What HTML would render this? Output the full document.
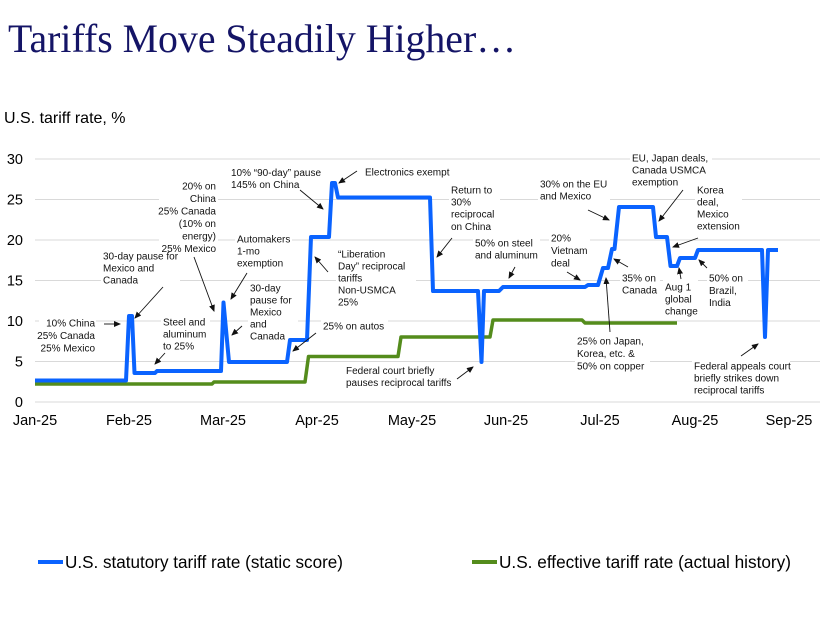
<!DOCTYPE html>
<html><head><meta charset="utf-8"><style>
html,body{margin:0;padding:0;background:#fff;}
svg{display:block;}
.a{font-family:"Liberation Sans",Arial,sans-serif;font-size:10px;fill:#111;}
.t{font-family:"Liberation Sans",Arial,sans-serif;font-size:14.5px;fill:#000;}
</style></head><body>
<svg width="826" height="620" viewBox="0 0 826 620" xmlns="http://www.w3.org/2000/svg">
<defs>
<marker id="ah" markerUnits="userSpaceOnUse" markerWidth="7" markerHeight="6" refX="6" refY="3" orient="auto">
<path d="M0,0 L7,3 L0,6 z" fill="#111"/>
</marker>
</defs>
<rect width="826" height="620" fill="#fff"/>
<text x="8" y="52" font-family="Liberation Serif,Times New Roman,serif" font-size="40" fill="#141466" textLength="508" lengthAdjust="spacingAndGlyphs">Tariffs Move Steadily Higher…</text>
<text x="4" y="123" font-family="Liberation Sans,Arial,sans-serif" font-size="16" fill="#000">U.S. tariff rate, %</text>

<!-- gridlines -->
<g stroke="#d9d9d9" stroke-width="1">
<line x1="35" x2="820" y1="159" y2="159"/>
<line x1="35" x2="820" y1="199.5" y2="199.5"/>
<line x1="35" x2="820" y1="240" y2="240"/>
<line x1="35" x2="820" y1="280.5" y2="280.5"/>
<line x1="35" x2="820" y1="321" y2="321"/>
<line x1="35" x2="820" y1="361.5" y2="361.5"/>
<line x1="35" x2="820" y1="402" y2="402"/>
</g>

<!-- white boxes behind annotations -->
<g fill="#fff">
<rect x="39" y="316" width="57" height="38"/>
<rect x="101" y="249" width="79" height="36"/>
<rect x="161" y="315" width="49" height="36"/>
<rect x="159" y="179" width="59" height="74"/>
<rect x="235" y="232" width="57" height="36"/>
<rect x="248" y="281" width="50" height="60"/>
<rect x="321" y="319" width="67" height="12"/>
<rect x="229" y="166" width="93" height="23"/>
<rect x="363" y="165" width="87" height="12"/>
<rect x="336" y="247" width="80" height="60"/>
<rect x="344" y="363" width="114" height="24"/>
<rect x="449" y="183" width="51" height="49"/>
<rect x="473" y="236" width="67" height="24"/>
<rect x="549" y="231" width="41" height="37"/>
<rect x="538" y="177" width="72" height="24"/>
<rect x="620" y="271" width="40" height="24"/>
<rect x="575" y="334" width="75" height="37"/>
<rect x="630" y="151" width="82" height="36"/>
<rect x="695" y="183" width="47" height="48"/>
<rect x="663" y="280" width="35" height="36"/>
<rect x="707" y="271" width="41" height="36"/>
<rect x="692" y="359" width="98" height="36"/>
</g>

<!-- axis labels -->
<g class="t" text-anchor="end">
<text x="23" y="164">30</text>
<text x="23" y="204.5">25</text>
<text x="23" y="245">20</text>
<text x="23" y="285.5">15</text>
<text x="23" y="326">10</text>
<text x="23" y="366.5">5</text>
<text x="23" y="407">0</text>
</g>
<g class="t" text-anchor="middle">
<text x="35" y="425">Jan-25</text>
<text x="129" y="425">Feb-25</text>
<text x="223" y="425">Mar-25</text>
<text x="317" y="425">Apr-25</text>
<text x="412" y="425">May-25</text>
<text x="506" y="425">Jun-25</text>
<text x="600" y="425">Jul-25</text>
<text x="695" y="425">Aug-25</text>
<text x="789" y="425">Sep-25</text>
</g>

<!-- series -->
<polyline fill="none" stroke="#548c1c" stroke-width="3.5" stroke-linejoin="round" points="35,384 212,384 214,382 305,382 308.5,356.5 398,356.5 401,337 490,337 493,320 582,320 585,323 677,323"/>
<polyline fill="none" stroke="#0a63ff" stroke-width="4" stroke-linejoin="round" points="35,380.5 126,380.5 129,316 132,316 134.5,373 155,373 157,371 221,371 223.5,302.5 229,362 287,362 290,340 307,340 311,237 329,237 332,183 335,183 338,197.5 430,197.5 433,291 478,291 481.5,362 484,291 499,291 503,287 585,287 588,285 598,285 603,268 608,268 612,249 614.5,249 619,207 653,207 656,237 667,237 670.5,266 677,266 680,258 695,258 698,250 762,250 765,337 768,250 778,250"/>

<!-- annotation text -->
<g class="a">
<g text-anchor="end">
<text x="95" y="326.5">10% China</text>
<text x="95" y="339">25% Canada</text>
<text x="95" y="351.5">25% Mexico</text>
<text x="216" y="189.5">20% on</text>
<text x="216" y="202">China</text>
<text x="216" y="214.5">25% Canada</text>
<text x="216" y="227">(10% on</text>
<text x="216" y="239.5">energy)</text>
<text x="216" y="252">25% Mexico</text>
</g>
<text x="103" y="259.5">30-day pause for</text>
<text x="103" y="271.5">Mexico and</text>
<text x="103" y="283.5">Canada</text>
<text x="163" y="325.5">Steel and</text>
<text x="163" y="337.5">aluminum</text>
<text x="163" y="349.5">to 25%</text>
<text x="237" y="242.5">Automakers</text>
<text x="237" y="254.5">1-mo</text>
<text x="237" y="266.5">exemption</text>
<text x="250" y="291.5">30-day</text>
<text x="250" y="303.5">pause for</text>
<text x="250" y="315.5">Mexico</text>
<text x="250" y="327.5">and</text>
<text x="250" y="339.5">Canada</text>
<text x="323" y="329.5">25% on autos</text>
<text x="231" y="176">10% “90-day” pause</text>
<text x="231" y="188">145% on China</text>
<text x="365" y="175.5">Electronics exempt</text>
<text x="338" y="257.5">“Liberation</text>
<text x="338" y="269.5">Day” reciprocal</text>
<text x="338" y="281.5">tariffs</text>
<text x="338" y="293.5">Non-USMCA</text>
<text x="338" y="305.5">25%</text>
<text x="346" y="374">Federal court briefly</text>
<text x="346" y="386">pauses reciprocal tariffs</text>
<text x="451" y="193.5">Return to</text>
<text x="451" y="205.5">30%</text>
<text x="451" y="217.5">reciprocal</text>
<text x="451" y="230">on China</text>
<text x="475" y="246.5">50% on steel</text>
<text x="475" y="258.5">and aluminum</text>
<text x="551" y="241.5">20%</text>
<text x="551" y="254">Vietnam</text>
<text x="551" y="266.5">deal</text>
<text x="540" y="187.5">30% on the EU</text>
<text x="540" y="199.5">and Mexico</text>
<text x="622" y="281.5">35% on</text>
<text x="622" y="293.5">Canada</text>
<text x="577" y="344.5">25% on Japan,</text>
<text x="577" y="357">Korea, etc. &amp;</text>
<text x="577" y="369.5">50% on copper</text>
<text x="632" y="161.5">EU, Japan deals,</text>
<text x="632" y="173.5">Canada USMCA</text>
<text x="632" y="185.5">exemption</text>
<text x="697" y="193.5">Korea</text>
<text x="697" y="205.5">deal,</text>
<text x="697" y="217.5">Mexico</text>
<text x="697" y="229.5">extension</text>
<text x="665" y="290.5">Aug 1</text>
<text x="665" y="302.5">global</text>
<text x="665" y="314.5">change</text>
<text x="709" y="281.5">50% on</text>
<text x="709" y="294">Brazil,</text>
<text x="709" y="306">India</text>
<text x="694" y="369.5">Federal appeals court</text>
<text x="694" y="381.5">briefly strikes down</text>
<text x="694" y="393.5">reciprocal tariffs</text>
</g>

<!-- arrows -->
<g stroke="#111" stroke-width="0.9" fill="none" marker-end="url(#ah)">
<line x1="104" y1="324" x2="120" y2="324"/>
<line x1="163" y1="287" x2="135" y2="318"/>
<line x1="165" y1="353" x2="155" y2="364"/>
<line x1="194" y1="257" x2="214" y2="311"/>
<line x1="247" y1="273" x2="231" y2="299"/>
<line x1="242" y1="326" x2="232" y2="335"/>
<line x1="316" y1="333" x2="293" y2="351"/>
<line x1="300" y1="190" x2="323" y2="209"/>
<line x1="357" y1="171" x2="339" y2="183"/>
<line x1="328" y1="272" x2="315" y2="257"/>
<line x1="457" y1="379" x2="473" y2="367"/>
<line x1="452" y1="238" x2="437" y2="257"/>
<line x1="515" y1="267" x2="509" y2="278"/>
<line x1="567" y1="272" x2="580" y2="280"/>
<line x1="588" y1="210" x2="609" y2="220"/>
<line x1="628" y1="267" x2="614" y2="259"/>
<line x1="610" y1="332" x2="606" y2="278"/>
<line x1="683" y1="190" x2="659" y2="221"/>
<line x1="698" y1="238" x2="673" y2="247"/>
<line x1="681" y1="279" x2="679" y2="268"/>
<line x1="707" y1="268" x2="699" y2="260"/>
<line x1="741" y1="356" x2="758" y2="344"/>
</g>

<!-- legend -->
<line x1="38" y1="562" x2="63" y2="562" stroke="#0a63ff" stroke-width="4"/>
<text x="65" y="568" font-family="Liberation Sans,Arial,sans-serif" font-size="17.2" fill="#000" textLength="278" lengthAdjust="spacingAndGlyphs">U.S. statutory tariff rate (static score)</text>
<line x1="472" y1="562" x2="497" y2="562" stroke="#548c1c" stroke-width="4"/>
<text x="499" y="568" font-family="Liberation Sans,Arial,sans-serif" font-size="17.2" fill="#000" textLength="292" lengthAdjust="spacingAndGlyphs">U.S. effective tariff rate (actual history)</text>
</svg>
</body></html>
